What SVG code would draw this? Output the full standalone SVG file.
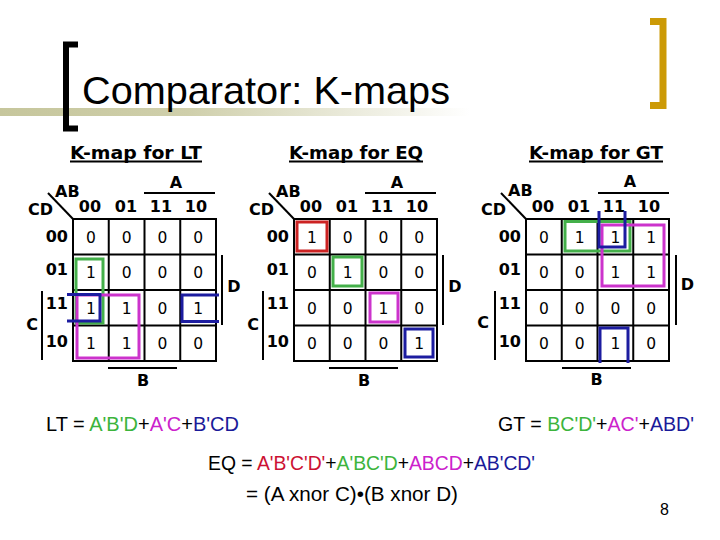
<svg xmlns="http://www.w3.org/2000/svg" width="720" height="540" viewBox="0 0 720 540">
<defs>
<linearGradient id="band" x1="0" y1="0" x2="1" y2="0">
<stop offset="0" stop-color="#c6c69c"/>
<stop offset="0.4" stop-color="#cfcfab"/>
<stop offset="1" stop-color="#ffffff"/>
</linearGradient>
</defs>
<style>
.title{font-family:"Liberation Sans",Arial,sans-serif;font-size:39px;fill:#000}
.kt{font-family:"DejaVu Sans",Verdana,sans-serif;font-weight:bold;font-size:17px;text-anchor:middle;fill:#000}
.hd{font-family:"DejaVu Sans",Verdana,sans-serif;font-weight:bold;font-size:16px;fill:#000}
.hc{text-anchor:middle}
.he{text-anchor:end}
.v{font-family:"DejaVu Sans",Verdana,sans-serif;font-size:15.5px;text-anchor:middle;fill:#000}
.grid{fill:none;stroke:#000;stroke-width:2}
.ln{stroke:#000;stroke-width:2;fill:none}
.loop{fill:none;stroke-width:3}
.g{stroke:#44b04a}.m{stroke:#cc33cc}.b{stroke:#1c1ca0}.r{stroke:#cc2222}
.eq{font-family:"Liberation Sans",Arial,sans-serif;font-size:19.5px;fill:#000}
.tg{fill:#3cb43c}.tm{fill:#cc22cc}.tb{fill:#1a1a99}.tr{fill:#cc1133}
</style>

<g id="header">
<rect x="0" y="108" width="470" height="8" fill="url(#band)"/>
<path d="M78,44.5 H66 V128.5 H78" fill="none" stroke="#000" stroke-width="6"/>
<path d="M650,21.5 H663 V105.5 H650" fill="none" stroke="#cc9a06" stroke-width="7"/>
<text class="title" x="82" y="104" textLength="368" lengthAdjust="spacingAndGlyphs">Comparator: K-maps</text>
</g>

<g id="kmap-lt">
<text class="kt" x="136" y="159" textLength="132" lengthAdjust="spacingAndGlyphs">K-map for LT</text>
<line class="ln" x1="70" y1="161.5" x2="202" y2="161.5" stroke-width="1.5"/>
<g transform="translate(73,219)">
<line class="ln" x1="-25" y1="-26" x2="0" y2="0" stroke-width="1.5"/>
<text class="hd" x="-18" y="-22">AB</text>
<text class="hd" x="-45" y="-4">CD</text>
<text class="hd hc" x="17" y="-7">00</text><text class="hd hc" x="53" y="-7">01</text><text class="hd hc" x="88" y="-7">11</text><text class="hd hc" x="123" y="-7">10</text>
<text class="hd he" x="-5" y="23">00</text><text class="hd he" x="-5" y="56">01</text><text class="hd he" x="-5" y="90">11</text><text class="hd he" x="-5" y="128">10</text>
<rect class="grid" x="0" y="0" width="143" height="142"/>
<path class="ln" d="M35.75,0V142M71.5,0V142M107.25,0V142M0,35.5H143M0,71H143M0,106.5H143"/>
<line class="ln" x1="71" y1="-26" x2="142" y2="-26"/><text class="hd hc" x="103" y="-31">A</text>
<line class="ln" x1="35" y1="149" x2="104" y2="149"/><text class="hd hc" x="70" y="167">B</text>
<line class="ln" x1="-31" y1="72" x2="-31" y2="141"/><text class="hd hc" x="-41" y="111">C</text>
<line class="ln" x1="149" y1="36" x2="149" y2="106"/><text class="hd hc" x="161" y="73">D</text>
<g class="vals">
<text class="v" x="17.9" y="23.5">0</text><text class="v" x="53.6" y="23.5">0</text><text class="v" x="89.4" y="23.5">0</text><text class="v" x="125.1" y="23.5">0</text>
<text class="v" x="17.9" y="59">1</text><text class="v" x="53.6" y="59">0</text><text class="v" x="89.4" y="59">0</text><text class="v" x="125.1" y="59">0</text>
<text class="v" x="17.9" y="94.5">1</text><text class="v" x="53.6" y="94.5">1</text><text class="v" x="89.4" y="94.5">0</text><text class="v" x="125.1" y="94.5">1</text>
<text class="v" x="17.9" y="130">1</text><text class="v" x="53.6" y="130">1</text><text class="v" x="89.4" y="130">0</text><text class="v" x="125.1" y="130">0</text>
</g>
</g>
<g id="loops-lt">
<rect class="loop g" x="76" y="259" width="27" height="64"/>
<rect class="loop m" x="77" y="295" width="62" height="63"/>
<path class="loop b" d="M67,294.5H100V321H67"/>
<path class="loop b" d="M219,295H182V321.5H219"/>
</g>
</g>

<g id="kmap-eq">
<text class="kt" x="356" y="159" textLength="134" lengthAdjust="spacingAndGlyphs">K-map for EQ</text>
<line class="ln" x1="289" y1="161.5" x2="423" y2="161.5" stroke-width="1.5"/>
<g transform="translate(294,219)">
<line class="ln" x1="-25" y1="-26" x2="0" y2="0" stroke-width="1.5"/>
<text class="hd" x="-18" y="-22">AB</text>
<text class="hd" x="-45" y="-4">CD</text>
<text class="hd hc" x="17" y="-7">00</text><text class="hd hc" x="53" y="-7">01</text><text class="hd hc" x="88" y="-7">11</text><text class="hd hc" x="123" y="-7">10</text>
<text class="hd he" x="-5" y="23">00</text><text class="hd he" x="-5" y="56">01</text><text class="hd he" x="-5" y="90">11</text><text class="hd he" x="-5" y="128">10</text>
<rect class="grid" x="0" y="0" width="143" height="142"/>
<path class="ln" d="M35.75,0V142M71.5,0V142M107.25,0V142M0,35.5H143M0,71H143M0,106.5H143"/>
<line class="ln" x1="71" y1="-26" x2="142" y2="-26"/><text class="hd hc" x="103" y="-31">A</text>
<line class="ln" x1="35" y1="149" x2="104" y2="149"/><text class="hd hc" x="70" y="167">B</text>
<line class="ln" x1="-31" y1="72" x2="-31" y2="141"/><text class="hd hc" x="-41" y="111">C</text>
<line class="ln" x1="149" y1="36" x2="149" y2="106"/><text class="hd hc" x="161" y="73">D</text>
<g class="vals">
<text class="v" x="17.9" y="23.5">1</text><text class="v" x="53.6" y="23.5">0</text><text class="v" x="89.4" y="23.5">0</text><text class="v" x="125.1" y="23.5">0</text>
<text class="v" x="17.9" y="59">0</text><text class="v" x="53.6" y="59">1</text><text class="v" x="89.4" y="59">0</text><text class="v" x="125.1" y="59">0</text>
<text class="v" x="17.9" y="94.5">0</text><text class="v" x="53.6" y="94.5">0</text><text class="v" x="89.4" y="94.5">1</text><text class="v" x="125.1" y="94.5">0</text>
<text class="v" x="17.9" y="130">0</text><text class="v" x="53.6" y="130">0</text><text class="v" x="89.4" y="130">0</text><text class="v" x="125.1" y="130">1</text>
</g>
</g>
<g id="loops-eq">
<rect class="loop r" x="297" y="222" width="30" height="29"/>
<rect class="loop g" x="333" y="257" width="29" height="29"/>
<rect class="loop m" x="370" y="293" width="28" height="29"/>
<rect class="loop b" x="405" y="329" width="28" height="28"/>
</g>
</g>

<g id="kmap-gt">
<text class="kt" x="596" y="159" textLength="134" lengthAdjust="spacingAndGlyphs">K-map for GT</text>
<line class="ln" x1="529" y1="161.5" x2="663" y2="161.5" stroke-width="1.5"/>
<g transform="translate(526,219)">
<line class="ln" x1="-25" y1="-26" x2="0" y2="0" stroke-width="1.5"/>
<text class="hd" x="-18" y="-23">AB</text>
<text class="hd" x="-45" y="-4">CD</text>
<text class="hd hc" x="17" y="-7">00</text><text class="hd hc" x="53" y="-7">01</text><text class="hd hc" x="88" y="-7">11</text><text class="hd hc" x="123" y="-7">10</text>
<text class="hd he" x="-5" y="23">00</text><text class="hd he" x="-5" y="56">01</text><text class="hd he" x="-5" y="90">11</text><text class="hd he" x="-5" y="128">10</text>
<rect class="grid" x="0" y="0" width="143" height="142"/>
<path class="ln" d="M35.75,0V142M71.5,0V142M107.25,0V142M0,35.5H143M0,71H143M0,106.5H143"/>
<line class="ln" x1="72" y1="-26" x2="143" y2="-26"/><text class="hd hc" x="104" y="-32">A</text>
<line class="ln" x1="36" y1="149" x2="105" y2="149"/><text class="hd hc" x="70.5" y="166">B</text>
<line class="ln" x1="-31" y1="72" x2="-31" y2="141"/><text class="hd hc" x="-43" y="109">C</text>
<line class="ln" x1="150" y1="36" x2="150" y2="106"/><text class="hd hc" x="161.5" y="71">D</text>
<g class="vals">
<text class="v" x="17.9" y="23.5">0</text><text class="v" x="53.6" y="23.5">1</text><text class="v" x="89.4" y="23.5">1</text><text class="v" x="125.1" y="23.5">1</text>
<text class="v" x="17.9" y="59">0</text><text class="v" x="53.6" y="59">0</text><text class="v" x="89.4" y="59">1</text><text class="v" x="125.1" y="59">1</text>
<text class="v" x="17.9" y="94.5">0</text><text class="v" x="53.6" y="94.5">0</text><text class="v" x="89.4" y="94.5">0</text><text class="v" x="125.1" y="94.5">0</text>
<text class="v" x="17.9" y="130">0</text><text class="v" x="53.6" y="130">0</text><text class="v" x="89.4" y="130">1</text><text class="v" x="125.1" y="130">0</text>
</g>
</g>
<g id="loops-gt">
<rect class="loop g" x="565" y="221.5" width="65" height="29.5"/>
<rect class="loop m" x="602" y="225" width="62" height="61"/>
<path class="loop b" d="M599,211V247H625V211"/>
<path class="loop b" d="M600,363V328H628V363"/>
</g>
</g>

<g id="equations">
<text class="eq" x="46" y="431" textLength="193" lengthAdjust="spacingAndGlyphs">LT = <tspan class="tg">A'B'D</tspan>+<tspan class="tm">A'C</tspan>+<tspan class="tb">B'CD</tspan></text>
<text class="eq" x="498" y="431" textLength="196" lengthAdjust="spacingAndGlyphs">GT = <tspan class="tg">BC'D'</tspan>+<tspan class="tm">AC'</tspan>+<tspan class="tb">ABD'</tspan></text>
<text class="eq" x="208" y="470" textLength="327" lengthAdjust="spacingAndGlyphs">EQ = <tspan class="tr">A'B'C'D'</tspan>+<tspan class="tg">A'BC'D</tspan>+<tspan class="tm">ABCD</tspan>+<tspan class="tb">AB'CD'</tspan></text>
<text class="eq" x="246" y="501" textLength="212" lengthAdjust="spacingAndGlyphs">= (A xnor C)•(B xnor D)</text>
<text class="eq" x="660" y="515" style="font-size:16px">8</text>
</g>
</svg>
